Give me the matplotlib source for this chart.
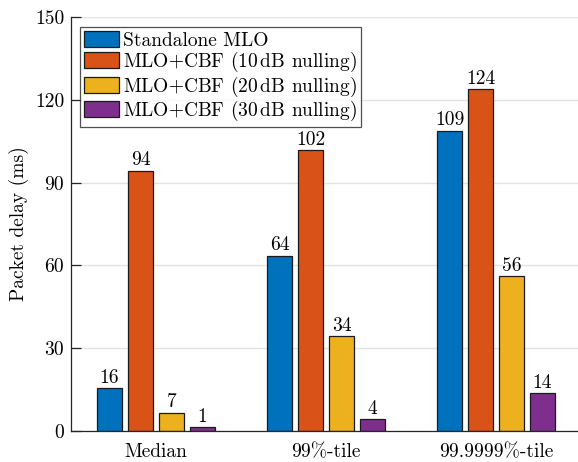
import matplotlib.pyplot as plt
import numpy as np

plt.rcParams['font.family'] = 'serif'
plt.rcParams['font.serif'] = ['cmr10']
plt.rcParams['mathtext.fontset'] = 'cm'
plt.rcParams['axes.formatter.use_mathtext'] = True

categories = ['Median', '99%-tile', '99.9999%-tile']
series_names = ['Standalone MLO',
                'MLO+CBF (10$\\,$dB nulling)',
                'MLO+CBF (20$\\,$dB nulling)',
                'MLO+CBF (30$\\,$dB nulling)']
standalone = [15.6, 63.5, 108.8]
cbf_10db = [94.3, 101.8, 123.9]
cbf_20db = [6.6, 34.4, 56.2]
cbf_30db = [1.3, 4.3, 13.8]
yticks = [0, 30, 60, 90, 120, 150]

colors = ['#0072BD', '#D95319', '#EDB120', '#7E2F8E']
series = [standalone, cbf_10db, cbf_20db, cbf_30db]

fig = plt.figure(figsize=(5.78, 4.62), dpi=100)
ax = fig.add_axes([71/578, 31/462, 510/578, 414/462])

x = np.arange(1, len(categories) + 1)
step = 0.182
width = 0.147
offsets = (np.arange(4) - 1.5) * step

for vals, name, col, off in zip(series, series_names, colors, offsets):
    bars = ax.bar(x + off, vals, width, color=col, edgecolor='#1a1a1a',
                  linewidth=0.9, label=name, zorder=3)
    for b, v in zip(bars, vals):
        ax.text(b.get_x() + b.get_width() / 2, v + 0.5, str(int(round(v))),
                ha='center', va='bottom', fontsize=14, zorder=4)

ax.set_xlim(0.5, 3.5)
ax.set_ylim(0, 150)
ax.set_xticks(x)
ax.set_xticklabels(categories, fontsize=14)
ax.set_yticks(yticks)
ax.set_yticklabels([str(t) for t in yticks], fontsize=14)
ax.tick_params(axis='x', length=0, pad=9)
ax.tick_params(axis='y', direction='in', length=7, width=0.9, color='#262626', pad=5)
ax.set_ylabel('Packet delay (ms)', fontsize=14, labelpad=4)

ax.yaxis.grid(True, color='#e3e3e3', linewidth=1.0, zorder=0)
ax.set_axisbelow(True)
for s in ['top', 'right']:
    ax.spines[s].set_visible(False)
for s in ['left', 'bottom']:
    ax.spines[s].set_color('#262626')
    ax.spines[s].set_linewidth(0.9)
    ax.spines[s].set_zorder(5)

leg = ax.legend(loc='upper left', bbox_to_anchor=(0.0176, 0.976), fontsize=14,
                frameon=True, fancybox=False, edgecolor='#262626',
                handlelength=1.8, handleheight=0.9, handletextpad=0.2,
                labelspacing=0.02, borderpad=0.2, borderaxespad=0.0)
leg.get_frame().set_linewidth(0.9)

fig.savefig('out.png', dpi=100)
